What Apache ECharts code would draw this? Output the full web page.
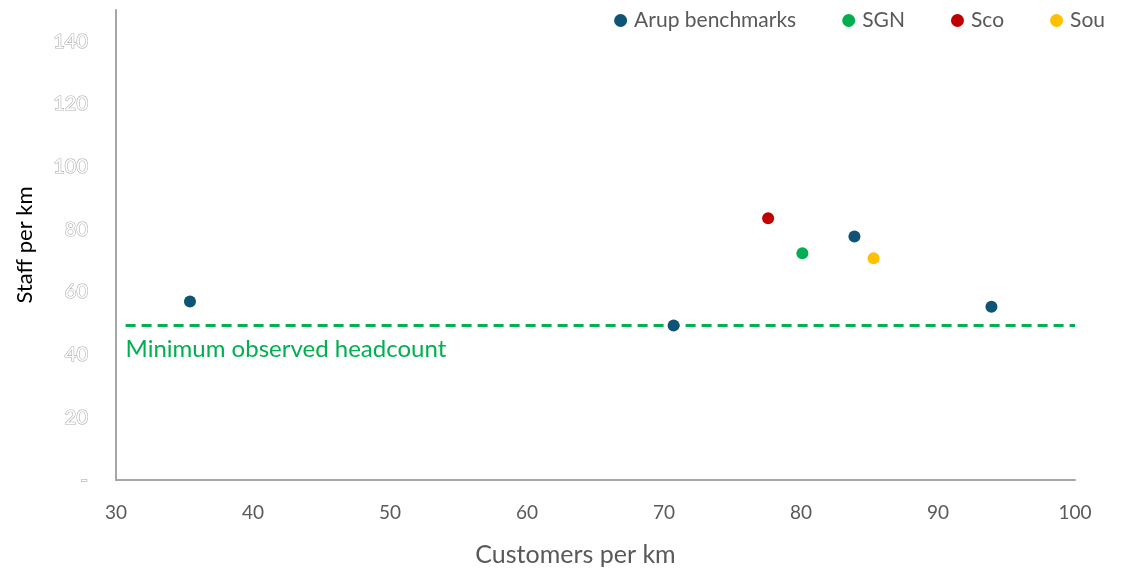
<!DOCTYPE html>
<html><head><meta charset="utf-8">
<script src="https://cdn.jsdelivr.net/npm/echarts@6/dist/echarts.min.js"></script>
<style>html,body{margin:0;padding:0;background:#fff;}#c{width:1129px;height:572px;}</style>
</head><body><div id="c"></div>
<script>
const seriesNames = ['Arup benchmarks', 'SGN', 'Sco', 'Sou'];
const arupData = [[35.4, 57.0], [70.7, 49.3], [83.9, 77.7], [93.9, 55.3]];
const sgnData = [[80.1, 72.4]];
const scoData = [[77.6, 83.5]];
const souData = [[85.3, 70.8]];
const minHeadcount = 49.3;
const minLabel = 'Minimum observed headcount';
const xTicks = [30, 40, 50, 60, 70, 80, 90, 100];
const yTicks = [0, 20, 40, 60, 80, 100, 120, 140];

const FONT = 'Lato, "Liberation Sans", sans-serif';
const colors = ['#0f5474', '#00b050', '#c00000', '#ffc000'];
const chart = echarts.init(document.getElementById('c'));
const mk = (name, data, color, extra) => Object.assign({
  name, type: 'scatter', data, symbolSize: 12,
  itemStyle: { color, opacity: 1 }, z: 5
}, extra || {});
chart.setOption({
  animation: false,
  textStyle: { fontFamily: FONT },
  legend: {
    top: 5, right: 19, itemGap: 46, itemWidth: 13, itemHeight: 13,
    icon: 'circle',
    textStyle: { fontSize: 21, color: '#595959', fontFamily: FONT, padding: [0, 0, 0, 2] },
    data: seriesNames
  },
  grid: { left: 116, right: 54, top: 10, bottom: 89 },
  xAxis: {
    type: 'value', min: 30, max: 100, interval: 10,
    name: 'Customers per km', nameLocation: 'middle', nameGap: 62,
    nameTextStyle: { fontSize: 25, color: '#595959', fontFamily: FONT, padding: [0, 40, 0, 0] },
    axisLine: { show: true, lineStyle: { color: '#a6a6a6', width: 2 } },
    axisTick: { show: false },
    axisLabel: { fontSize: 19, color: '#595959', margin: 23, fontFamily: FONT,
      formatter: v => xTicks.includes(v) ? String(v) : '' },
    splitLine: { show: false }
  },
  yAxis: {
    type: 'value', min: 0, max: 150, interval: 20,
    name: 'Staff per km', nameLocation: 'middle', nameGap: 80,
    nameTextStyle: { fontSize: 22, color: '#000', fontFamily: FONT },
    axisLine: { show: true, lineStyle: { color: '#a6a6a6', width: 2 } },
    axisTick: { show: false },
    axisLabel: { fontSize: 20, color: '#ffffff', margin: 28, fontFamily: FONT,
      textBorderColor: '#b0b0b0', textBorderWidth: 1.2,
      formatter: v => v === 0 ? '-' : (yTicks.includes(v) ? String(v) : '') },
    splitLine: { show: false }
  },
  series: [
    mk(seriesNames[0], arupData, colors[0], {
      markLine: {
        silent: true, symbol: ['none', 'none'],
        lineStyle: { color: '#00b050', type: [10, 6], width: 3 },
        label: { show: true, position: 'insideStartBottom', formatter: minLabel,
          color: '#00b050', fontSize: 24, fontFamily: FONT, distance: [0, 12] },
        data: [[{ coord: [30.7, minHeadcount] }, { coord: [100, minHeadcount] }]]
      }
    }),
    mk(seriesNames[1], sgnData, colors[1]),
    mk(seriesNames[2], scoData, colors[2]),
    mk(seriesNames[3], souData, colors[3])
  ]
});
</script></body></html>
